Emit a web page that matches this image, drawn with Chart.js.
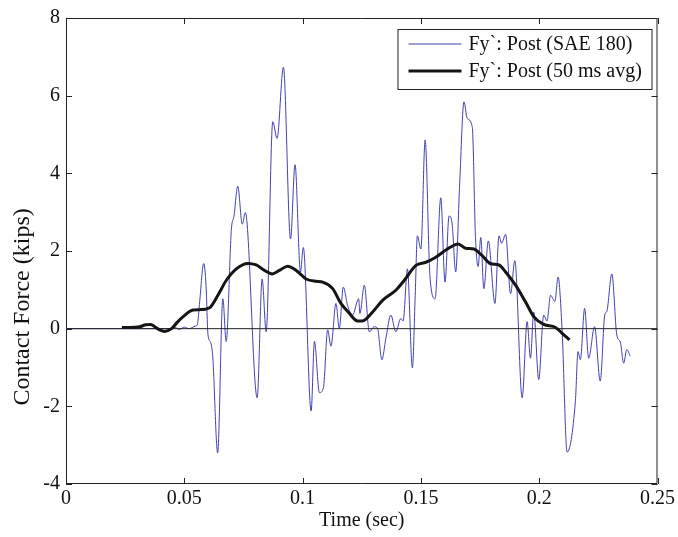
<!DOCTYPE html>
<html>
<head>
<meta charset="utf-8">
<script src="https://cdn.jsdelivr.net/npm/chart.js@4.4.1/dist/chart.umd.min.js"></script>
<style>
  html, body { margin: 0; padding: 0; background: #fff; }
  #wrap { width: 678px; height: 537px; }
</style>
</head>
<body>
<div id="wrap"><canvas id="c" width="678" height="537"></canvas></div>
<script>
// Post contact force, Fy' component, raw SAE 180 filtered channel
const timeSec = [
  0, 0.044, 0.046, 0.048, 0.050, 0.052, 0.0545, 0.0555, 0.0565, 0.0582,
  0.0592, 0.0600, 0.0611, 0.0620, 0.0641, 0.0663, 0.0677, 0.0699, 0.0710, 0.0726,
  0.0745, 0.0758, 0.0808, 0.0829, 0.0846, 0.0874, 0.0892, 0.0919, 0.0949, 0.0968,
  0.0991, 0.1003, 0.1036, 0.1050, 0.1071, 0.1088, 0.1106, 0.1120, 0.1141, 0.1155,
  0.1172, 0.1190, 0.1211, 0.1237, 0.1242, 0.1261, 0.1282, 0.1303, 0.1317, 0.1335,
  0.1352, 0.1373, 0.1394, 0.1415, 0.1425, 0.1443, 0.1464, 0.1476, 0.1485, 0.1500,
  0.1518, 0.1538, 0.1560, 0.1584, 0.1602, 0.1619, 0.1632, 0.1647, 0.1664, 0.1682,
  0.1696, 0.1717, 0.1731, 0.1742, 0.1753, 0.1766, 0.1785, 0.1813, 0.1830, 0.1841,
  0.1858, 0.1879, 0.1897, 0.1928, 0.1949, 0.1963, 0.1977, 0.1998, 0.2019, 0.2033,
  0.2048, 0.2066, 0.2080, 0.2097, 0.2118, 0.2153, 0.2164, 0.2174, 0.2192, 0.2209,
  0.2234, 0.2258, 0.2277, 0.2286, 0.2307, 0.2328, 0.2343, 0.2357, 0.2370, 0.2385
];
const postSae180 = [
  0, 0, 0.03, -0.02, 0.04, 0.0, 0.06, 0.1, 0.7, 1.68,
  1.1, -0.15, -0.35, -0.7, -3.2, 0.77, -0.33, 2.56, 2.9, 3.67,
  2.69, 2.99, -1.78, 1.28, -0.08, 5.33, 4.9, 6.73, 2.31, 4.22,
  1.46, 2.09, -2.12, -0.33, -1.65, -1.52, -0.03, -0.45, 0.65, 0.0,
  1.07, 0.6, 0.35, 0.77, 0.39, 1.12, -0.08, 0.05, 0.0, -0.8,
  -0.25, 0.35, -0.08, 0.26, 0.2, 1.54, -1.01, 0.86, 2.39, 2.05,
  4.86, 1.37, 0.77, 3.37, 1.2, 2.9, 2.7, 1.46, 3.75, 5.84,
  5.41, 5.2, 2.31, 1.6, 2.35, 1.03, 2.26, 0.65, 2.39, 2.2,
  2.43, 0.9, 1.75, -1.78, 0.18, -0.76, 0.43, -1.31, 0.35, 0.2,
  0.86, 0.7, 1.33, -0.08, -3.18, -1.86, -0.59, -0.8, 0.52, -0.76,
  0.05, -1.35, 0.35, 0.45, 1.41, -0.16, -0.35, -0.89, -0.54, -0.71
];

// 50 ms moving average of the same channel
const avgTimeSec = [
  0.0236, 0.0270, 0.0312, 0.0337, 0.0358, 0.0375, 0.0396, 0.0417, 0.0446, 0.0468,
  0.0495, 0.0537, 0.0565, 0.0607, 0.0642, 0.0677, 0.0720, 0.0769, 0.0804, 0.0839,
  0.0871, 0.0902, 0.0937, 0.0973, 0.1015, 0.1057, 0.1085, 0.1127, 0.1162, 0.1197,
  0.1232, 0.1253, 0.1296, 0.1338, 0.1394, 0.1429, 0.1479, 0.1521, 0.1563, 0.1612,
  0.1658, 0.1689, 0.1724, 0.1759, 0.1795, 0.1830, 0.1858, 0.1900, 0.1942, 0.1977,
  0.2019, 0.2069, 0.2097, 0.2128
];
const post50msAvg = [
  0.03, 0.03, 0.05, 0.10, 0.11, 0.05, -0.03, -0.07, 0.0, 0.15,
  0.31, 0.48, 0.49, 0.54, 0.86, 1.24, 1.54, 1.68, 1.64, 1.50,
  1.41, 1.50, 1.61, 1.50, 1.28, 1.22, 1.20, 1.03, 0.65, 0.40,
  0.20, 0.20, 0.43, 0.73, 0.99, 1.24, 1.63, 1.71, 1.84, 2.05,
  2.18, 2.07, 2.05, 1.88, 1.67, 1.64, 1.46, 1.12, 0.69, 0.31,
  0.11, 0.03, -0.12, -0.29
];

const seriesLabels = ["Fy`: Post (SAE 180)", "Fy`: Post (50 ms avg)"];
const xTickValues = [0, 0.05, 0.1, 0.15, 0.2, 0.25];
const xTickLabels = ["0", "0.05", "0.1", "0.15", "0.2", "0.25"];
const yTickValues = [-4, -2, 0, 2, 4, 6, 8];
const yTickLabels = ["-4", "-2", "0", "2", "4", "6", "8"];
const xTitle = "Time (sec)";
const yTitle = "Contact Force (kips)";

const FONT = "'Liberation Serif', 'Times New Roman', serif";
const BLUE = "rgb(66,66,178)";
const BLACK = "#151515";

const toPoints = (xs, ys) => xs.map((x, i) => ({ x, y: ys[i] }));

// Frame around the axes with inward tick marks on all four sides
const framePlugin = {
  id: "frame",
  afterDatasetsDraw(chart) {
    const { ctx, chartArea: a, scales } = chart;
    const len = 6;
    ctx.save();
    ctx.strokeStyle = "#222";
    ctx.lineWidth = 1;
    ctx.beginPath();
    ctx.rect(a.left + 0.5, a.top + 0.5, a.right - a.left - 1, a.bottom - a.top - 1);
    xTickValues.forEach(v => {
      const px = Math.round(scales.x.getPixelForValue(v)) + 0.5;
      ctx.moveTo(px, a.bottom); ctx.lineTo(px, a.bottom - len);
      ctx.moveTo(px, a.top); ctx.lineTo(px, a.top + len);
    });
    yTickValues.forEach(v => {
      const py = Math.round(scales.y.getPixelForValue(v)) + 0.5;
      ctx.moveTo(a.left, py); ctx.lineTo(a.left + len, py);
      ctx.moveTo(a.right, py); ctx.lineTo(a.right - len, py);
    });
    ctx.stroke();
    ctx.restore();
  }
};

// Vertical axis caption, set a little below the axis middle
const yTitlePlugin = {
  id: "yTitle",
  afterDraw(chart) {
    const { ctx, chartArea: a } = chart;
    ctx.save();
    ctx.translate(23, a.top + (a.bottom - a.top) * 0.62);
    ctx.rotate(-Math.PI / 2);
    ctx.fillStyle = "#111";
    ctx.font = "24px " + FONT;
    ctx.textAlign = "center";
    ctx.textBaseline = "middle";
    ctx.fillText(yTitle, 0, 0);
    ctx.restore();
  }
};

// Boxed legend in the upper right corner of the axes
const boxLegendPlugin = {
  id: "boxLegend",
  afterDraw(chart) {
    const { ctx, chartArea: a } = chart;
    const w = 254, h = 60;
    const x0 = a.right - 6 - w, y0 = a.top + 11;
    ctx.save();
    ctx.fillStyle = "#fff";
    ctx.fillRect(x0, y0, w, h);
    ctx.strokeStyle = "#222";
    ctx.lineWidth = 1;
    ctx.strokeRect(x0 + 0.5, y0 + 0.5, w, h);
    [0, 2].forEach((di, row) => {
      const ds = chart.data.datasets[di];
      const cy = y0 + 15 + row * 27;
      ctx.strokeStyle = ds.borderColor;
      ctx.lineWidth = ds.borderWidth;
      ctx.beginPath();
      ctx.moveTo(x0 + 11, cy);
      ctx.lineTo(x0 + 64, cy);
      ctx.stroke();
      ctx.fillStyle = "#111";
      ctx.font = "20px " + FONT;
      ctx.textBaseline = "middle";
      ctx.textAlign = "left";
      ctx.fillText(ds.label, x0 + 71, cy + 1);
    });
    ctx.restore();
  }
};

new Chart(document.getElementById("c"), {
  type: "line",
  data: {
    datasets: [
      {
        label: seriesLabels[0],
        data: toPoints(timeSec, postSae180),
        borderColor: BLUE,
        borderWidth: 1,
        pointRadius: 0,
        cubicInterpolationMode: "monotone",
        order: 3
      },
      {
        label: "zero",
        data: toPoints([xTickValues[0], xTickValues[xTickValues.length - 1]], [0, 0]),
        borderColor: "#222",
        borderWidth: 1,
        pointRadius: 0,
        order: 2
      },
      {
        label: seriesLabels[1],
        data: toPoints(avgTimeSec, post50msAvg),
        borderColor: BLACK,
        borderWidth: 3,
        pointRadius: 0,
        cubicInterpolationMode: "monotone",
        order: 1
      }
    ]
  },
  options: {
    responsive: false,
    animation: false,
    layout: { padding: { left: 0, right: 19, top: 14, bottom: 0 } },
    plugins: { legend: { display: false }, tooltip: { enabled: false } },
    scales: {
      x: {
        type: "linear",
        min: 0, max: 0.25,
        afterBuildTicks: s => { s.ticks = xTickValues.map(v => ({ value: v })); },
        afterFit: s => { s.height = 53; },
        grid: { display: false, drawTicks: false },
        border: { display: false },
        ticks: {
          color: "#111",
          font: { family: FONT, size: 20 },
          padding: 3,
          maxRotation: 0,
          callback: (v) => xTickLabels[xTickValues.indexOf(v)]
        },
        title: {
          display: true, text: xTitle, color: "#111",
          font: { family: FONT, size: 20 }, padding: { top: 0, bottom: 4 }
        }
      },
      y: {
        type: "linear",
        min: -4, max: 8,
        afterBuildTicks: s => { s.ticks = yTickValues.map(v => ({ value: v })); },
        afterFit: s => { s.width = 66; },
        grid: { display: false, drawTicks: false },
        border: { display: false },
        ticks: {
          color: "#111",
          font: { family: FONT, size: 20 },
          padding: 6,
          callback: (v) => yTickLabels[yTickValues.indexOf(v)]
        }
      }
    }
  },
  plugins: [framePlugin, yTitlePlugin, boxLegendPlugin]
});
</script>
</body>
</html>
